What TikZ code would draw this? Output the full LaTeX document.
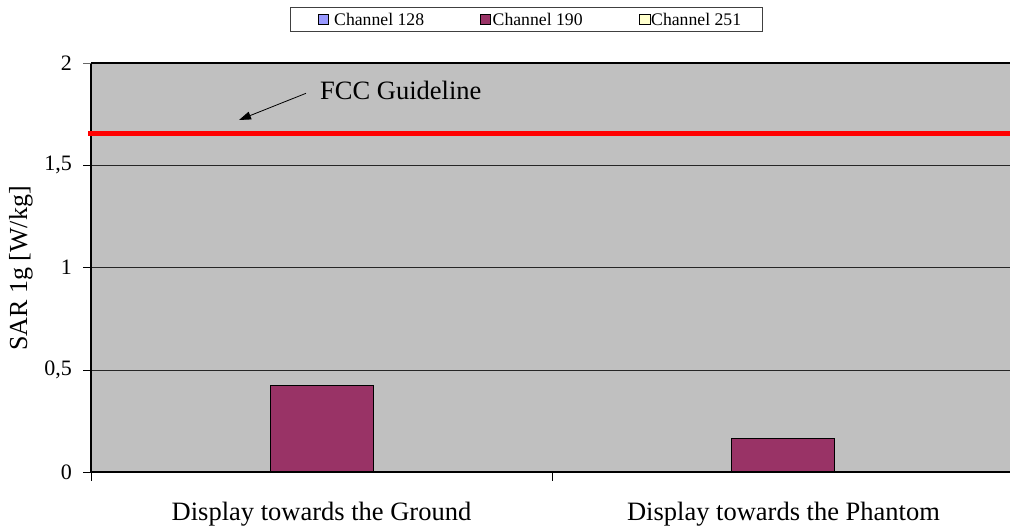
\documentclass[tikz,border=0pt]{standalone}
\usepackage{fontspec}
\setmainfont{Liberation Serif}
\usetikzlibrary{arrows.meta}
\definecolor{plotbg}{HTML}{C0C0C0}
\definecolor{chA}{HTML}{9999FF}
\definecolor{chB}{HTML}{993366}
\definecolor{chC}{HTML}{FFFFCC}
\tikzset{
  ticklbl/.style={anchor=east,inner sep=0pt,font=\fontsize{22}{24}\selectfont},
  catlbl/.style={anchor=base,inner sep=0pt,font=\fontsize{26.5}{28}\selectfont},
  legtxt/.style={anchor=west,inner sep=0pt,font=\fontsize{17.7}{19}\selectfont},
  legsq/.style={draw=black,line width=0.6pt,minimum size=10.5pt,inner sep=0pt},
  bar/.style={draw=black,line width=0.8pt,fill=chB},
  grid/.style={line width=0.8pt,black!85},
  frame/.style={line width=2.6pt,black},
}
\begin{document}
\begin{tikzpicture}[x=1pt,y=-1pt]
\useasboundingbox (0,0) rectangle (1010,532);
% plot area
\fill[plotbg] (91,63) rectangle (1010,472);
\draw[grid] (91,165.3) -- (1010,165.3);
\draw[grid] (91,267.7) -- (1010,267.7);
\draw[grid] (91,370) -- (1010,370);
% bars
\draw[bar] (270.7,472) rectangle (373.3,385);
\draw[bar] (731.7,472) rectangle (834.7,438.3);
% frame
\draw[frame] (91,63) -- (1010,63);
\draw[frame] (91,63) -- (91,472) -- (1010,472);
% y ticks
\draw[line width=0.8pt,black!60] (83,63) -- (91,63);
\foreach \yy in {165.3,267.7,370,472} \draw[line width=0.8pt] (83,\yy) -- (91,\yy);
\node[ticklbl] (t2) at (72,63) {2};
\node[ticklbl] (t15) at (72,165.3) {1,5};
\node[ticklbl] (t1) at (72,267.7) {1};
\node[ticklbl] (t05) at (72,370) {0,5};
\node[ticklbl] (t0) at (72,472) {0};
% x ticks
\draw[line width=0.8pt] (91,472) -- (91,481);
\draw[line width=0.8pt] (552,472) -- (552,481);
\node[catlbl] (c1) at (321.5,520) {Display towards the Ground};
\node[catlbl] (c2) at (783.5,520) {Display towards the Phantom};
% y title
\node[rotate=90,inner sep=0pt,font=\fontsize{26}{28}\selectfont] (ytitle) at (21,268.5) {SAR 1g [W/kg]};
% FCC line
\draw[red,line width=4.5pt] (88,133.3) -- (1010,133.3);
\node[anchor=base west,inner sep=0pt,font=\fontsize{26.5}{28}\selectfont] (fcc) at (320,99.3) {FCC Guideline};
\coordinate (arS) at (306,93.3);
\coordinate (arE) at (239,120);
\draw[line width=0.8pt,-{Triangle[length=12pt,width=8pt]}] (arS) -- (arE);
% legend
\node[draw=black!75,line width=1pt,minimum width=472pt,minimum height=24.4pt,inner sep=0pt,fill=white] (legend) at (526.7,19.5) {};
\node[legsq,fill=chA] (sqA) at (323.5,19.5) {};
\node[legtxt] (lA) at (334,19.8) {Channel 128};
\node[legsq,fill=chB] (sqB) at (485.5,19.5) {};
\node[legtxt] (lB) at (492.5,19.8) {Channel 190};
\node[legsq,fill=chC] (sqC) at (644.8,19.5) {};
\node[legtxt] (lC) at (651,19.8) {Channel 251};
\end{tikzpicture}
\end{document}
